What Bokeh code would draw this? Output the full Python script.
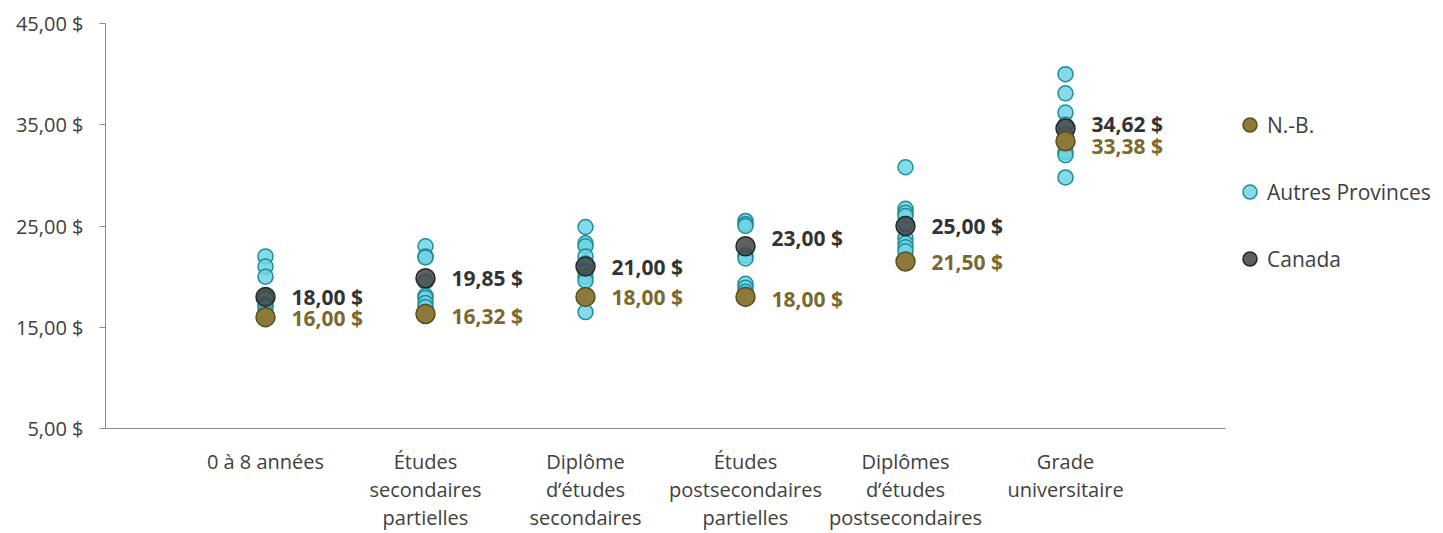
from bokeh.plotting import figure
from bokeh.models import FixedTicker, Legend, LegendItem, ColumnDataSource, Range1d
from bokeh.core.properties import value
from bokeh.embed import file_html
from bokeh.resources import INLINE

categories = [
    "0 à 8 années",
    "Études\nsecondaires\npartielles",
    "Diplôme\nd’études\nsecondaires",
    "Études\npostsecondaires\npartielles",
    "Diplômes\nd’études\npostsecondaires",
    "Grade\nuniversitaire",
]
nb_values = [16.00, 16.32, 18.00, 18.00, 21.50, 33.38]
canada_values = [18.00, 19.85, 21.00, 23.00, 25.00, 34.62]
other_provinces = [
    [22.0, 21.0, 20.0, 18.0, 17.8, 17.2, 17.0, 16.5, 16.2],
    [23.0, 22.0, 21.9, 19.5, 18.1, 17.9, 17.4, 17.0, 16.5],
    [24.9, 23.3, 23.0, 22.0, 21.3, 20.5, 20.0, 19.6, 16.5],
    [25.5, 25.2, 25.0, 22.1, 21.8, 19.3, 18.9, 18.5, 18.2],
    [30.8, 26.7, 26.3, 26.0, 25.2, 23.8, 23.3, 22.9, 22.5],
    [40.0, 38.1, 36.2, 35.0, 34.0, 33.0, 32.3, 32.0, 29.8],
]
y_ticks = [5, 15, 25, 35, 45]
y_tick_labels = ["5,00 $", "15,00 $", "25,00 $", "35,00 $", "45,00 $"]
series_names = ["N.-B.", "Autres Provinces", "Canada"]

# label nudges (screen px, layout only)
canada_label_dy = [0, 0, 0, -8, 0, -5]
nb_label_dy = [1, 2, 0, 2, 1, 5]

FONT = "Open Sans"

def money(v):
    return f"{v:.2f}".replace(".", ",") + " $"

xs = list(range(1, len(categories) + 1))
n_slots = len(categories) + 1          # axis spans 0 .. 7
frame_px = 1443 - 105                  # frame extends to the right edge (legend area)
x_end = n_slots * frame_px / 1120.0    # keep 160 px per category slot

p = figure(width=1443, height=533, output_backend="svg", toolbar_location=None,
           x_range=Range1d(0, x_end), y_range=Range1d(5, 45),
           min_border_left=105, min_border_right=0, min_border_top=23, min_border_bottom=105)
p.outline_line_color = None
p.grid.grid_line_color = None
p.background_fill_color = "white"

# other provinces
ox, oy = [], []
for x, vals in zip(xs, other_provinces):
    for v in vals:
        ox.append(x)
        oy.append(v)
r_other = p.scatter(ox, oy, size=15, fill_color="#6fd3e3", fill_alpha=0.85,
                    line_color="#1f8c9c", line_width=1.5)

r_can = p.scatter(xs, canada_values, size=19, fill_color="#444444", fill_alpha=0.85,
                  line_color="#262626", line_width=1.5)
r_nb = p.scatter(xs, nb_values, size=19, fill_color="#8b7a3a", fill_alpha=1.0,
                 line_color="#5c4d1e", line_width=1.5)

can_src = ColumnDataSource(dict(x=xs, y=canada_values, t=[money(v) for v in canada_values],
                                dy=canada_label_dy))
nb_src = ColumnDataSource(dict(x=xs, y=nb_values, t=[money(v) for v in nb_values],
                               dy=nb_label_dy))
p.text(x="x", y="y", text="t", source=can_src, x_offset=26, y_offset="dy",
       text_font=value(FONT), text_font_style="bold", text_font_size="21px",
       text_color="#333333", text_baseline="middle", text_align="left")
p.text(x="x", y="y", text="t", source=nb_src, x_offset=26, y_offset="dy",
       text_font=value(FONT), text_font_style="bold", text_font_size="21px",
       text_color="#7a682c", text_baseline="middle", text_align="left")

# axes
axis_color = "#8c8c8c"
p.yaxis.ticker = FixedTicker(ticks=y_ticks)
p.yaxis.major_label_overrides = {t: l for t, l in zip(y_ticks, y_tick_labels)}
p.yaxis.axis_line_color = axis_color
p.yaxis.major_tick_line_color = axis_color
p.yaxis.major_tick_out = 6
p.yaxis.major_tick_in = 0
p.yaxis.minor_tick_line_color = None
p.yaxis.major_label_standoff = 16
p.yaxis.major_label_text_font = FONT
p.yaxis.major_label_text_font_size = "20px"
p.yaxis.major_label_text_color = "#404040"

p.xaxis.ticker = FixedTicker(ticks=xs)
p.xaxis.bounds = (0, n_slots)
p.xaxis.major_label_overrides = {x: c for x, c in zip(xs, categories)}
p.xaxis.axis_line_color = axis_color
p.xaxis.major_tick_line_color = None
p.xaxis.minor_tick_line_color = None
p.xaxis.major_label_standoff = 13
p.xaxis.major_label_text_font = FONT
p.xaxis.major_label_text_font_size = "20px"
p.xaxis.major_label_text_line_height = 1.04
p.xaxis.major_label_text_color = "#404040"

legend = Legend(items=[LegendItem(label=series_names[0], renderers=[r_nb]),
                       LegendItem(label=series_names[1], renderers=[r_other]),
                       LegendItem(label=series_names[2], renderers=[r_can])],
                location=(1127, 152), orientation="vertical",
                glyph_width=35, glyph_height=35, label_height=35, spacing=32,
                label_standoff=0, padding=0, margin=0,
                background_fill_alpha=0, border_line_color=None,
                label_text_font=FONT, label_text_font_size="21px",
                label_text_color="#404040")
p.add_layout(legend, "center")

open("out.html", "w").write(file_html(p, INLINE))
